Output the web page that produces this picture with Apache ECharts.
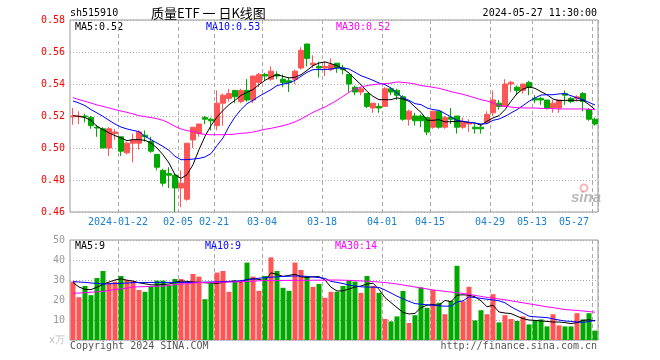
<!DOCTYPE html>
<html>
<head>
<meta charset="utf-8">
<script src="https://cdn.jsdelivr.net/npm/echarts@6/dist/echarts.min.js"></script>
<style>
html,body{margin:0;padding:0;background:#fff;}
#c{width:660px;height:360px;}
</style>
</head>
<body>
<div id="c"></div>
<script>
// ---------- DATA ----------
const dates = [
'2024-01-10','2024-01-11','2024-01-12','2024-01-15','2024-01-16','2024-01-17','2024-01-18','2024-01-19','2024-01-22','2024-01-23',
'2024-01-24','2024-01-25','2024-01-26','2024-01-29','2024-01-30','2024-01-31','2024-02-01','2024-02-02','2024-02-05','2024-02-06',
'2024-02-07','2024-02-08','2024-02-19','2024-02-20','2024-02-21','2024-02-22','2024-02-23','2024-02-26','2024-02-27','2024-02-28',
'2024-02-29','2024-03-01','2024-03-04','2024-03-05','2024-03-06','2024-03-07','2024-03-08','2024-03-11','2024-03-12','2024-03-13',
'2024-03-14','2024-03-15','2024-03-18','2024-03-19','2024-03-20','2024-03-21','2024-03-22','2024-03-25','2024-03-26','2024-03-27',
'2024-03-28','2024-03-29','2024-04-01','2024-04-02','2024-04-03','2024-04-08','2024-04-09','2024-04-10','2024-04-11','2024-04-12',
'2024-04-15','2024-04-16','2024-04-17','2024-04-18','2024-04-19','2024-04-22','2024-04-23','2024-04-24','2024-04-25','2024-04-26',
'2024-04-29','2024-04-30','2024-05-06','2024-05-07','2024-05-08','2024-05-09','2024-05-10','2024-05-13','2024-05-14','2024-05-15',
'2024-05-16','2024-05-17','2024-05-20','2024-05-21','2024-05-22','2024-05-23','2024-05-24','2024-05-27'];

const labelDates = ['2024-01-22','2024-02-05','2024-02-21','2024-03-04','2024-03-18','2024-04-01','2024-04-15','2024-04-29','2024-05-13','2024-05-27'];

const open = [
.5195,.5195,.520,.519,.513,.512,.500,.509,.507,.497,
.503,.503,.508,.504,.496,.486,.484,.483,.475,.468,
.505,.509,.519,.518,.514,.528,.531,.536,.529,.536,
.530,.541,.546,.543,.546,.543,.542,.543,.550,.565,
.552,.551,.550,.549,.553,.550,.546,.538,.535,.534,
.525,.526,.526,.537,.536,.532,.518,.520,.520,.519,
.513,.523,.513,.519,.520,.513,.515,.513,.513,.516,
.522,.528,.526,.540,.538,.536,.541,.531,.531,.530,
.525,.525,.534,.531,.531,.534,.524,.518];

const close = [
.520,.520,.5195,.514,.5125,.500,.512,.510,.498,.503,
.505,.510,.507,.498,.488,.478,.483,.475,.478,.503,
.513,.515,.518,.517,.528,.533,.534,.532,.536,.530,
.545,.546,.545,.548,.545,.541,.541,.548,.561,.556,
.553,.550,.551,.552,.550,.549,.540,.535,.537,.526,
.528,.525,.537,.535,.533,.518,.523,.517,.517,.510,
.523,.513,.519,.518,.513,.516,.516,.512,.512,.521,
.530,.526,.540,.541,.536,.540,.538,.530,.530,.525,
.528,.530,.533,.529,.532,.529,.518,.515];

const low = [
.5145,.515,.516,.512,.507,.500,.495,.505,.495,.496,
.491,.499,.504,.497,.486,.476,.475,.460,.463,.467,
.500,.507,.515,.511,.511,.514,.529,.528,.528,.529,
.528,.538,.542,.542,.543,.538,.535,.540,.549,.551,
.550,.544,.545,.548,.547,.546,.535,.533,.533,.525,
.522,.522,.526,.533,.530,.517,.514,.514,.513,.508,
.512,.512,.512,.515,.509,.512,.510,.509,.509,.515,
.520,.524,.526,.535,.533,.534,.533,.528,.527,.524,
.522,.522,.527,.528,.529,.523,.517,.514];

const high = [
.525,.523,.5215,.520,.5145,.513,.513,.512,.507,.504,
.509,.511,.511,.507,.496,.487,.488,.484,.486,.503,
.513,.515,.520,.519,.536,.534,.537,.536,.537,.543,
.545,.547,.547,.551,.548,.546,.544,.549,.563,.565,
.558,.554,.554,.556,.553,.552,.546,.539,.538,.534,
.528,.528,.538,.538,.537,.533,.524,.522,.521,.519,
.523,.523,.520,.525,.520,.519,.518,.515,.515,.523,
.536,.530,.543,.542,.539,.540,.542,.533,.532,.530,
.530,.530,.536,.532,.533,.535,.525,.519];

const ma5 = [
.5202,.5198,.5190,.5173,.5135,.5115,.5094,.5077,.5063,.5046,
.5052,.5052,.5048,.5031,.5000,.4958,.4906,.4833,.4810,.4833,
.4896,.4990,.5073,.5140,.5194,.5235,.5271,.5298,.5329,.5348,
.5365,.5396,.5423,.5444,.5458,.5448,.5438,.5442,.5458,.5485,
.5515,.5531,.5538,.5527,.5515,.5494,.5469,.5431,.5396,.5354,
.5323,.5302,.5302,.5302,.5313,.5306,.5292,.5256,.5223,.5173,
.5173,.5177,.5163,.5165,.5167,.5165,.5160,.5156,.5142,.5167,
.5188,.5202,.5240,.5292,.5340,.5369,.5381,.5373,.5352,.5333,
.5306,.5296,.5298,.5298,.5298,.5298,.5271,.5240];

const ma10 = [
.5294,.5281,.5265,.5240,.5219,.5198,.5173,.5150,.5131,.5119,
.5110,.5102,.5073,.5052,.5031,.5010,.4985,.4948,.4927,.4927,
.4931,.4935,.4944,.4965,.5015,.5063,.5135,.5194,.5240,.5277,
.5298,.5323,.5344,.5365,.5390,.5400,.5406,.5423,.5448,.5473,
.5490,.5490,.5490,.5494,.5500,.5500,.5494,.5473,.5452,.5438,
.5423,.5406,.5396,.5375,.5344,.5313,.5298,.5277,.5271,.5250,
.5240,.5235,.5215,.5194,.5173,.5167,.5160,.5156,.5150,.5152,
.5173,.5181,.5198,.5219,.5240,.5265,.5292,.5313,.5331,.5333,
.5333,.5338,.5340,.5327,.5313,.5302,.5285,.5269];

const ma30 = [
.5315,.5302,.5292,.5281,.5269,.5260,.5250,.5240,.5231,.5223,
.5213,.5202,.5196,.5190,.5183,.5173,.5156,.5135,.5119,.5108,
.5104,.5090,.5085,.5083,.5083,.5083,.5085,.5087,.5092,.5094,
.5100,.5108,.5117,.5123,.5131,.5140,.5150,.5163,.5181,.5202,
.5223,.5240,.5256,.5277,.5298,.5323,.5348,.5369,.5381,.5390,
.5396,.5400,.5402,.5406,.5413,.5410,.5406,.5400,.5390,.5385,
.5379,.5373,.5363,.5352,.5344,.5335,.5325,.5313,.5302,.5294,
.5281,.5265,.5260,.5256,.5252,.5250,.5250,.5250,.5248,.5246,
.5246,.5244,.5244,.5244,.5244,.5244,.5242,.5240];

const volume = [
29.2,21.4,27.0,22.4,31.0,34.5,28.7,29.2,32.0,30.0,
29.5,25.0,24.1,27.0,29.7,29.7,27.5,30.5,30.5,28.0,
33.0,31.7,20.4,28.3,33.7,34.5,24.1,29.2,29.2,38.7,
31.7,24.6,32.0,41.3,34.5,26.1,24.6,38.7,35.0,32.0,
26.6,28.0,21.1,24.1,24.1,27.0,30.0,29.2,23.6,32.0,
27.0,23.6,10.5,9.3,11.8,24.5,8.5,12.4,26.3,16.1,
25.0,18.6,12.9,19.6,37.1,19.4,26.6,9.8,14.9,12.9,
22.9,8.8,12.4,10.5,9.5,11.8,7.8,9.8,10.3,6.8,
12.9,7.3,6.8,6.8,13.4,10.3,13.4,4.7];

const volMa5 = [
28.7,26.5,25.3,25.2,26.4,27.8,29.0,30.0,30.6,29.9,
29.5,28.6,28.1,27.6,27.5,27.8,28.0,28.8,29.5,29.3,
29.0,28.8,28.6,28.5,28.3,28.8,29.3,29.6,29.0,30.3,
30.6,30.3,29.6,33.6,32.8,31.8,32.3,32.9,31.6,31.3,
31.6,31.7,30.0,26.4,24.5,24.6,25.5,26.5,27.0,28.0,
28.4,25.3,21.2,18.7,16.2,13.8,13.0,13.3,16.2,17.4,
17.7,17.4,19.8,19.1,22.4,22.6,22.4,21.6,19.6,16.6,
17.4,14.0,13.5,13.2,11.9,10.7,10.0,9.8,9.5,9.3,
9.0,9.0,8.7,8.2,8.7,9.8,10.1,9.5];

const volMa10 = [
29.2,29.0,28.8,28.5,28.3,28.0,28.1,28.2,28.3,28.5,
28.7,28.7,28.7,28.8,28.8,28.8,28.8,28.8,28.8,28.8,
28.8,28.8,28.9,29.0,29.1,29.2,29.2,29.3,29.7,30.1,
30.5,30.9,31.2,31.4,31.6,31.8,31.9,32.0,32.0,31.8,
31.5,31.2,30.8,29.3,28.8,28.2,27.5,27.0,26.6,26.5,
26.4,26.3,25.0,23.5,21.9,20.6,19.3,18.2,17.9,17.6,
17.4,17.1,16.9,17.0,19.0,19.6,21.6,21.2,20.8,20.4,
20.0,19.6,18.6,16.6,15.0,13.5,11.9,11.6,11.4,11.2,
10.6,10.0,9.5,9.3,9.0,8.8,9.3,9.8];

const volMa30 = [
23.3,23.5,23.7,23.9,24.1,24.3,24.8,25.2,25.6,26.0,
26.5,26.6,26.7,26.8,26.9,27.0,27.3,27.7,28.0,28.2,
28.5,28.7,28.8,28.8,28.9,28.9,29.0,29.0,29.2,29.3,
29.4,29.6,29.7,29.7,29.7,29.8,29.8,29.8,29.8,29.8,
29.9,29.9,29.9,30.0,30.0,29.9,29.8,29.7,29.5,29.4,
29.2,29.0,28.7,28.4,28.0,27.5,27.0,26.5,26.0,25.5,
25.0,24.7,24.3,24.0,23.6,23.3,22.8,22.3,21.8,21.3,
20.9,20.5,20.1,19.6,19.1,18.6,18.1,17.6,17.1,16.6,
16.2,15.7,15.2,15.0,14.8,14.5,14.2,13.9];

const volLegend = ['MA5:9', 'MA10:9', 'MA30:14'];
const code = 'sh515910';
const titleText = '质量ETF 一 日K线图';
const stamp = '2024-05-27 11:30:00';

// ---------- STYLE ----------
const UP = '#ff5555', DOWN = '#00a800';
const MONO = 'DejaVu Sans Mono';
const labelSet = new Set(labelDates);

const candleData = dates.map((d, i) => [open[i], close[i], low[i], high[i]]);
const volData = volume.map((v, i) => ({value: v, itemStyle: {color: close[i] >= open[i] ? UP : DOWN}}));

const showLabel = (idx, val) => labelSet.has(val);
const fmtDate = (val) => val === labelDates[0] ? val : val.slice(5);

const chart = echarts.init(document.getElementById('c'), null, {renderer: 'canvas'});

const xCommon = {
  type: 'category', data: dates, boundaryGap: true,
  axisLine: {show: false}, axisTick: {show: false},
  splitLine: {show: true, interval: showLabel, lineStyle: {color: '#aaa', type: [4, 3], width: 1}}
};

const option = {
  animation: false,
  backgroundColor: '#fff',
  grid: [
    {left: 70, top: 20, width: 528, height: 192, show: true, borderColor: '#999', borderWidth: 1},
    {left: 70, top: 240, width: 528, height: 100, show: true, borderColor: '#999', borderWidth: 1}
  ],
  xAxis: [
    Object.assign({}, xCommon, {gridIndex: 0,
      axisLabel: {show: true, interval: showLabel, formatter: fmtDate, color: '#1a80d0',
        fontFamily: MONO, fontSize: 10, margin: 5, padding: [0, 6, 0, 0], alignMaxLabel: 'right'}}),
    Object.assign({}, xCommon, {gridIndex: 1, axisLabel: {show: false}})
  ],
  yAxis: [
    {type: 'value', gridIndex: 0, min: 0.46, max: 0.58, interval: 0.02,
      axisLine: {show: false}, axisTick: {show: false},
      axisLabel: {color: '#ff0000', fontFamily: MONO, fontSize: 10, margin: 5, formatter: v => v.toFixed(2)},
      splitLine: {show: true, lineStyle: {color: '#aaa', type: [1, 2], width: 1}}},
    {type: 'value', gridIndex: 1, min: 0, max: 50, interval: 10,
      axisLine: {show: false}, axisTick: {show: false},
      axisLabel: {color: '#999', fontFamily: MONO, fontSize: 10, margin: 5,
        formatter: v => v === 0 ? '{u|x万}' : String(v),
        rich: {u: {color: '#bbb', fontFamily: MONO, fontSize: 10}}},
      splitLine: {show: true, lineStyle: {color: '#aaa', type: [1, 2], width: 1}}}
  ],
  series: [
    {type: 'candlestick', xAxisIndex: 0, yAxisIndex: 0, data: candleData, barWidth: 5,
      itemStyle: {color: UP, color0: DOWN, borderColor: UP, borderColor0: DOWN, borderWidth: 1}},
    {type: 'line', xAxisIndex: 0, yAxisIndex: 0, data: ma5, showSymbol: false, symbol: 'none',
      lineStyle: {color: '#000', width: 1}},
    {type: 'line', xAxisIndex: 0, yAxisIndex: 0, data: ma10, showSymbol: false, symbol: 'none',
      lineStyle: {color: '#0000ff', width: 1}},
    {type: 'line', xAxisIndex: 0, yAxisIndex: 0, data: ma30, showSymbol: false, symbol: 'none',
      lineStyle: {color: '#ff00ff', width: 1}},
    {type: 'bar', xAxisIndex: 1, yAxisIndex: 1, data: volData, barWidth: 5},
    {type: 'line', xAxisIndex: 1, yAxisIndex: 1, data: volMa5, showSymbol: false, symbol: 'none',
      lineStyle: {color: '#000', width: 1}},
    {type: 'line', xAxisIndex: 1, yAxisIndex: 1, data: volMa10, showSymbol: false, symbol: 'none',
      lineStyle: {color: '#0000ff', width: 1}},
    {type: 'line', xAxisIndex: 1, yAxisIndex: 1, data: volMa30, showSymbol: false, symbol: 'none',
      lineStyle: {color: '#ff00ff', width: 1}}
  ],
  graphic: [
    {type: 'text', x: 70, y: 13, style: {text: code, font: '10px "' + MONO + '"', fill: '#000', textVerticalAlign: 'middle'}},
    {type: 'text', x: 151, y: 13, style: {text: titleText, font: '13px "Noto Sans CJK SC"', fill: '#000', textVerticalAlign: 'middle'}},
    {type: 'text', x: 597, y: 13, style: {text: stamp, font: '10px "' + MONO + '"', fill: '#000', textAlign: 'right', textVerticalAlign: 'middle'}},
    {type: 'text', x: 75, y: 27, style: {text: 'MA5:' + ma5[ma5.length - 1].toFixed(2), font: '10px "' + MONO + '"', fill: '#000', textVerticalAlign: 'middle'}},
    {type: 'text', x: 206, y: 27, style: {text: 'MA10:' + ma10[ma10.length - 1].toFixed(2), font: '10px "' + MONO + '"', fill: '#0000ff', textVerticalAlign: 'middle'}},
    {type: 'text', x: 336, y: 27, style: {text: 'MA30:' + ma30[ma30.length - 1].toFixed(2), font: '10px "' + MONO + '"', fill: '#ff00ff', textVerticalAlign: 'middle'}},
    {type: 'text', x: 75, y: 246, style: {text: volLegend[0], font: '10px "' + MONO + '"', fill: '#000', textVerticalAlign: 'middle'}},
    {type: 'text', x: 205, y: 246, style: {text: volLegend[1], font: '10px "' + MONO + '"', fill: '#0000ff', textVerticalAlign: 'middle'}},
    {type: 'text', x: 335, y: 246, style: {text: volLegend[2], font: '10px "' + MONO + '"', fill: '#ff00ff', textVerticalAlign: 'middle'}},
    {type: 'text', x: 70, y: 346, style: {text: 'Copyright 2024 SINA.COM', font: '10px "' + MONO + '"', fill: '#555', textVerticalAlign: 'middle'}},
    {type: 'text', x: 597, y: 346, style: {text: 'http://finance.sina.com.cn', font: '10px "' + MONO + '"', fill: '#555', textAlign: 'right', textVerticalAlign: 'middle'}},
    {type: 'circle', shape: {cx: 584, cy: 188, r: 3.5}, style: {fill: 'none', stroke: 'rgba(240,120,120,0.55)', lineWidth: 2}, z: 1},
    {type: 'text', x: 571, y: 198, style: {text: 'sina', font: 'italic bold 15px "Liberation Sans"', fill: 'rgba(160,160,160,0.75)', textVerticalAlign: 'middle'}, z: 1}
  ]
};
chart.setOption(option);
</script>
</body>
</html>
